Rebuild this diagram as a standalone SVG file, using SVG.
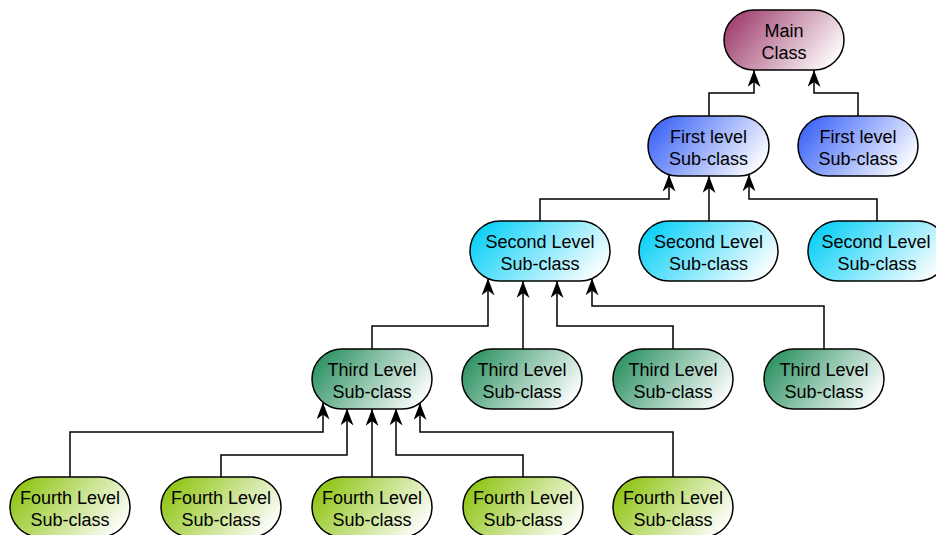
<svg xmlns="http://www.w3.org/2000/svg" width="936" height="535" viewBox="0 0 936 535">
<style>
.n{stroke:#000;stroke-width:1.5}
.t{font-family:"Liberation Sans",Arial,sans-serif;font-size:18px;fill:#000;text-anchor:middle}
.c{fill:none;stroke:#000;stroke-width:1.5}
</style>
<defs>
<linearGradient id="g0" x1="0" y1="0.3" x2="1" y2="0.7"><stop offset="0" stop-color="#A0406E"/><stop offset="1" stop-color="#FFFFFF"/></linearGradient>
<linearGradient id="g1" x1="0" y1="0.3" x2="1" y2="0.7"><stop offset="0" stop-color="#3F66F7"/><stop offset="1" stop-color="#FFFFFF"/></linearGradient>
<linearGradient id="g2" x1="0" y1="0.3" x2="1" y2="0.7"><stop offset="0" stop-color="#0BD0F7"/><stop offset="1" stop-color="#FFFFFF"/></linearGradient>
<linearGradient id="g3" x1="0" y1="0.3" x2="1" y2="0.7"><stop offset="0" stop-color="#2E9263"/><stop offset="1" stop-color="#FFFFFF"/></linearGradient>
<linearGradient id="g4" x1="0" y1="0.3" x2="1" y2="0.7"><stop offset="0" stop-color="#8FC414"/><stop offset="1" stop-color="#FFFFFF"/></linearGradient>
<marker id="a" viewBox="0 0 17 13" refX="17" refY="6.5" markerWidth="17" markerHeight="13" markerUnits="userSpaceOnUse" orient="auto">
<path d="M0,0 L17,6.5 L0,13 L5,6.5 Z" fill="#000"/>
</marker>
</defs>
<g id="connectors">
<path class="c" marker-end="url(#a)" d="M709,116 V93 H754 V70"/>
<path class="c" marker-end="url(#a)" d="M858,116 V93 H814 V70"/>
<path class="c" marker-end="url(#a)" d="M540,221 V199 H669 V174.6"/>
<path class="c" marker-end="url(#a)" d="M709,221 V176"/>
<path class="c" marker-end="url(#a)" d="M877,221 V199 H749 V174.3"/>
<path class="c" marker-end="url(#a)" d="M372,349 V326 H488 V278.5"/>
<path class="c" marker-end="url(#a)" d="M523,349 V281"/>
<path class="c" marker-end="url(#a)" d="M673,349 V326 H557 V281"/>
<path class="c" marker-end="url(#a)" d="M824,349 V306 H592 V278.5"/>
<path class="c" marker-end="url(#a)" d="M70,477 V432 H323 V402.5"/>
<path class="c" marker-end="url(#a)" d="M221,477 V455 H347 V408.5"/>
<path class="c" marker-end="url(#a)" d="M372,477 V409"/>
<path class="c" marker-end="url(#a)" d="M523,477 V455 H396 V408.5"/>
<path class="c" marker-end="url(#a)" d="M673,477 V432 H420 V403"/>
</g>
<g id="main"><rect class="n" x="724" y="10" width="120" height="60" rx="30" fill="url(#g0)"/><text class="t" x="784" y="36.5">Main</text><text class="t" x="784" y="58.5">Class</text></g>
<g id="first1"><rect class="n" x="648" y="116" width="121" height="60" rx="30" fill="url(#g1)"/><text class="t" x="708.5" y="142.5">First level</text><text class="t" x="708.5" y="164.5">Sub-class</text></g>
<g id="first2"><rect class="n" x="798" y="116" width="120" height="60" rx="30" fill="url(#g1)"/><text class="t" x="858" y="142.5">First level</text><text class="t" x="858" y="164.5">Sub-class</text></g>
<g id="second1"><rect class="n" x="470" y="221" width="140" height="60" rx="30" fill="url(#g2)"/><text class="t" x="540" y="247.5">Second Level</text><text class="t" x="540" y="269.5">Sub-class</text></g>
<g id="second2"><rect class="n" x="639" y="221" width="139" height="60" rx="30" fill="url(#g2)"/><text class="t" x="708.5" y="247.5">Second Level</text><text class="t" x="708.5" y="269.5">Sub-class</text></g>
<g id="second3"><rect class="n" x="808" y="221" width="140" height="60" rx="30" fill="url(#g2)"/><text class="t" x="876" y="247.5">Second Level</text><text class="t" x="877" y="269.5">Sub-class</text></g>
<g id="third1"><rect class="n" x="312" y="349" width="120" height="60" rx="30" fill="url(#g3)"/><text class="t" x="372" y="375.5">Third Level</text><text class="t" x="372" y="397.5">Sub-class</text></g>
<g id="third2"><rect class="n" x="462" y="349" width="120" height="60" rx="30" fill="url(#g3)"/><text class="t" x="522" y="375.5">Third Level</text><text class="t" x="522" y="397.5">Sub-class</text></g>
<g id="third3"><rect class="n" x="613" y="349" width="120" height="60" rx="30" fill="url(#g3)"/><text class="t" x="673" y="375.5">Third Level</text><text class="t" x="673" y="397.5">Sub-class</text></g>
<g id="third4"><rect class="n" x="764" y="349" width="120" height="60" rx="30" fill="url(#g3)"/><text class="t" x="824" y="375.5">Third Level</text><text class="t" x="824" y="397.5">Sub-class</text></g>
<g id="fourth1"><rect class="n" x="10" y="477" width="120" height="60" rx="30" fill="url(#g4)"/><text class="t" x="70" y="503.5">Fourth Level</text><text class="t" x="70" y="525.5">Sub-class</text></g>
<g id="fourth2"><rect class="n" x="161" y="477" width="120" height="60" rx="30" fill="url(#g4)"/><text class="t" x="221" y="503.5">Fourth Level</text><text class="t" x="221" y="525.5">Sub-class</text></g>
<g id="fourth3"><rect class="n" x="312" y="477" width="120" height="60" rx="30" fill="url(#g4)"/><text class="t" x="372" y="503.5">Fourth Level</text><text class="t" x="372" y="525.5">Sub-class</text></g>
<g id="fourth4"><rect class="n" x="463" y="477" width="120" height="60" rx="30" fill="url(#g4)"/><text class="t" x="523" y="503.5">Fourth Level</text><text class="t" x="523" y="525.5">Sub-class</text></g>
<g id="fourth5"><rect class="n" x="613" y="477" width="120" height="60" rx="30" fill="url(#g4)"/><text class="t" x="673" y="503.5">Fourth Level</text><text class="t" x="673" y="525.5">Sub-class</text></g>
</svg>
